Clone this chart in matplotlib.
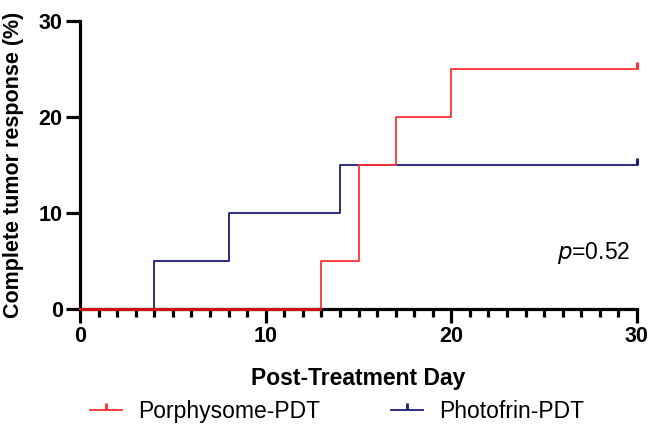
import numpy as np
import matplotlib as mpl
import matplotlib.pyplot as plt
from matplotlib.lines import Line2D

mpl.rcParams['font.family'] = ['Liberation Sans', 'DejaVu Sans']

# step data (day, % complete response)
porph_days = [0, 13, 15, 17, 20, 30]
porph_resp = [0, 5, 15, 20, 25, 25]
photo_days = [0, 4, 8, 14, 30]
photo_resp = [0, 5, 10, 15, 15]

red = '#FF3030'
navy = '#1C1C7A'

fig = plt.figure(figsize=(6.48, 4.26), dpi=100)
ax = fig.add_axes([0.1235, 0.2746, 0.8595, 0.6761])

ax.step(porph_days, porph_resp, where='post', color=red, lw=1.3, clip_on=False, zorder=5)
ax.step(photo_days, photo_resp, where='post', color=navy, lw=1.3, clip_on=False, zorder=4)
# censor marks at the end
ax.plot([porph_days[-1]], [porph_resp[-1]], marker=2, ms=5, mew=2.2, color=red, clip_on=False, zorder=6)
ax.plot([photo_days[-1]], [photo_resp[-1]], marker=2, ms=5, mew=2.2, color=navy, clip_on=False, zorder=6)
# red baseline drawn heavier over the axis
ax.plot([0, 13], [0, 0], color='#D01010', lw=2.2, clip_on=False, zorder=7, solid_capstyle='butt')

ax.set_xlim(0, 30)
ax.set_ylim(0, 30)
ax.set_xticks([0, 10, 20, 30])
ax.set_xticks(np.arange(0, 31, 1), minor=True)
ax.set_yticks([0, 10, 20, 30])

for s in ['top', 'right']:
    ax.spines[s].set_visible(False)
for s in ['left', 'bottom']:
    ax.spines[s].set_linewidth(2.3)

ax.tick_params(axis='both', which='major', length=10, width=2.3, labelsize=15.5, pad=2.5)
ax.tick_params(axis='x', which='minor', length=6, width=2.3)
for lab in ax.get_xticklabels() + ax.get_yticklabels():
    lab.set_fontweight('bold')

ax.set_xlabel('Post-Treatment Day', fontsize=16.5, fontweight='bold', labelpad=14)
ax.set_ylabel('Complete tumor response (%)', fontsize=15.5, fontweight='bold')
ax.yaxis.set_label_coords(-0.1, 0.5)

ax.text(0.856, 0.195, r'$\it{p}$=0.52', transform=ax.transAxes, fontsize=16.5, va='center')

handles = [Line2D([], [], color=red, lw=1.3, marker=2, ms=5, mew=2),
           Line2D([], [], color=navy, lw=1.3, marker=2, ms=5, mew=2)]
fig.legend(handles, ['Porphysome-PDT', 'Photofrin-PDT'], loc='center left',
           bbox_to_anchor=(0.139, 0.034), ncol=2, frameon=False, fontsize=16.5,
           handlelength=1.4, handletextpad=0.7, columnspacing=3.1, numpoints=1,
           borderpad=0, borderaxespad=0)

plt.savefig('out.png', dpi=100)
plt.close(fig)
